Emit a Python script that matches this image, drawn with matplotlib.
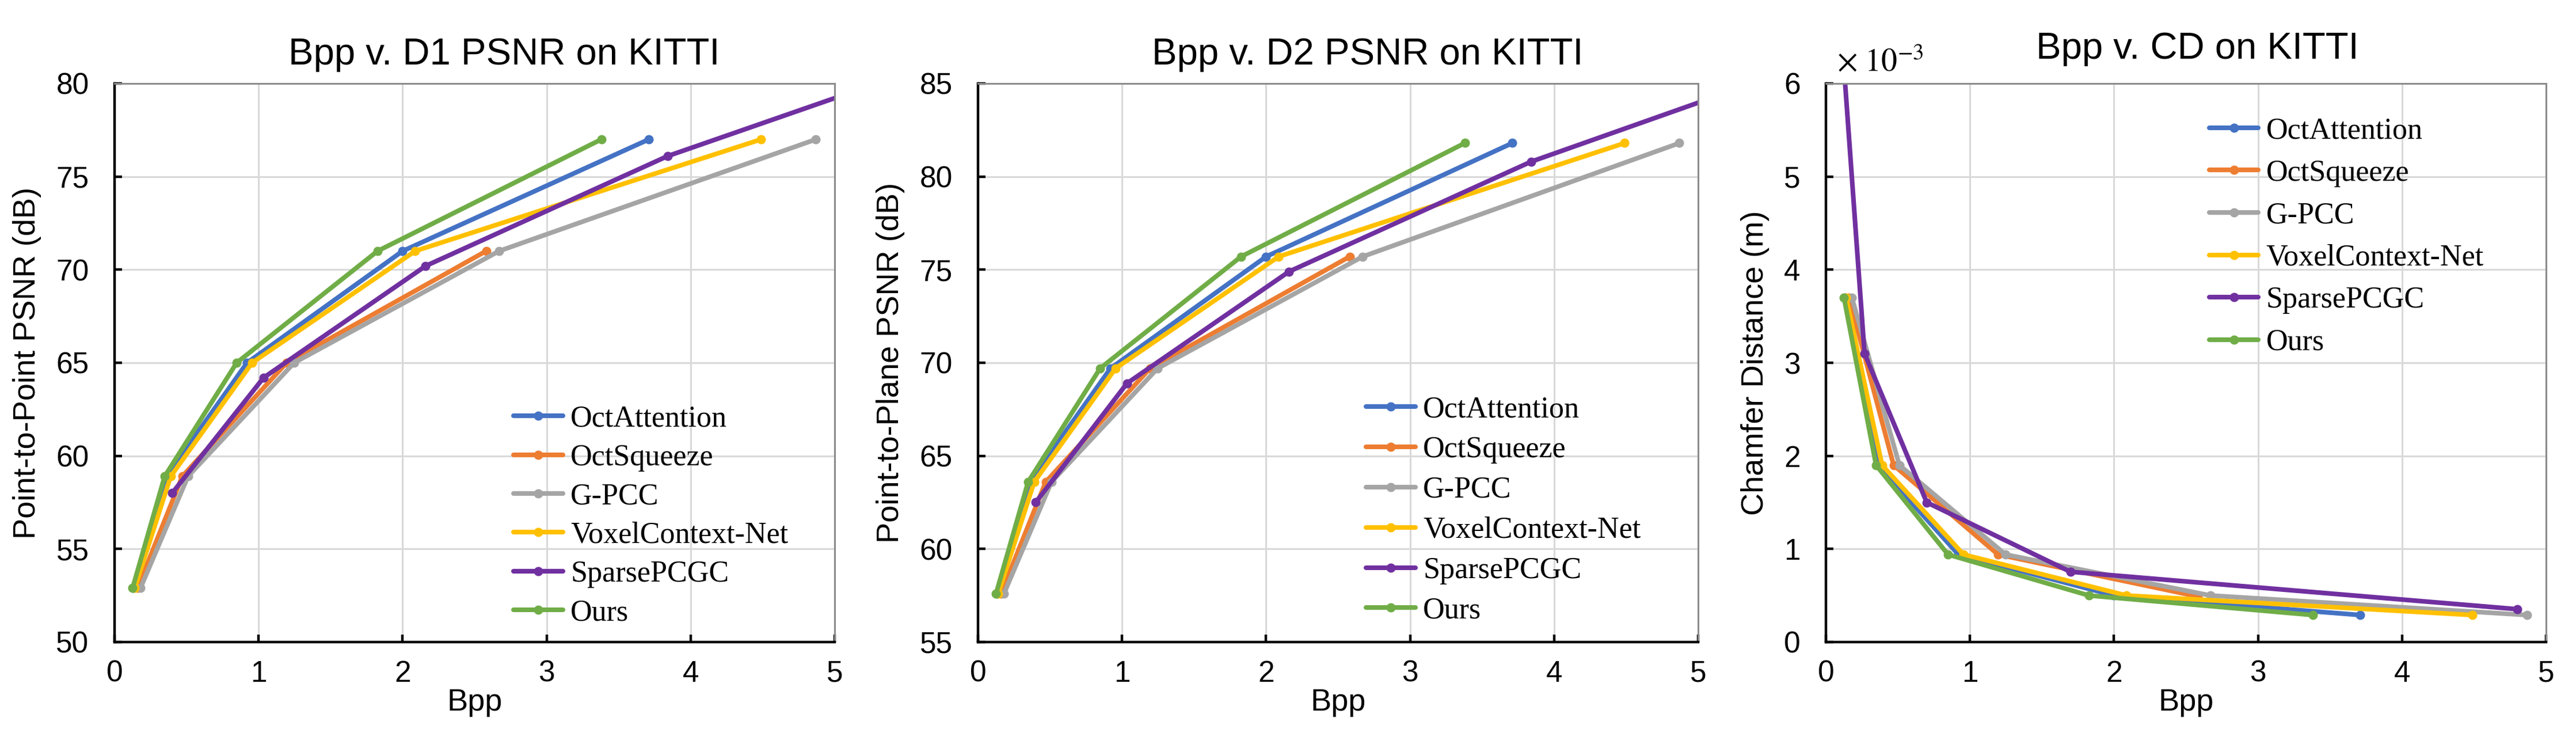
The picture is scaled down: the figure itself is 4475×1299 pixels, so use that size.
import matplotlib
matplotlib.use("Agg")
import matplotlib.pyplot as plt
from matplotlib.ticker import FuncFormatter, MultipleLocator

plt.rcParams["font.family"] = ["Liberation Sans", "DejaVu Sans"]
plt.rcParams["mathtext.fontset"] = "stix"

methods = ["OctAttention", "OctSqueeze", "G-PCC", "VoxelContext-Net", "SparsePCGC", "Ours"]
colors = ["#4472C4", "#ED7D31", "#A5A5A5", "#FFC000", "#7030A0", "#70AD47"]

# bpp per method (same operating points for D1 / D2 / CD)
bpp_octattention = [0.13, 0.36, 0.92, 2.00, 3.71]
bpp_octsqueeze = [0.16, 0.47, 1.195, 2.58]
bpp_gpcc = [0.18, 0.51, 1.247, 2.67, 4.87]
bpp_voxel = [0.14, 0.39, 0.955, 2.087, 4.49]
bpp_sparse = [0.40, 1.035, 2.16, 3.84, 6.0]
bpp_ours = [0.125, 0.348, 0.848, 1.826, 3.38]
bpp_sparse_cd = [0.11, 0.268, 0.70, 1.697, 4.80]

d1_psnr = [52.9, 58.9, 65.0, 71.0, 77.0]
d1_sparse = [58.0, 64.2, 70.2, 76.1, 81.9]
d2_psnr = [57.6, 63.6, 69.7, 75.7, 81.8]
d2_sparse = [62.5, 68.9, 74.9, 80.8, 86.7]
cd = [3.7e-3, 1.9e-3, 0.94e-3, 0.50e-3, 0.29e-3]
cd_octsqueeze = [3.7e-3, 1.9e-3, 0.94e-3, 0.49e-3]
cd_sparse = [6.5e-3, 3.1e-3, 1.5e-3, 0.755e-3, 0.353e-3]

panels = [
    dict(title="Bpp v. D1 PSNR on KITTI", ylabel="Point-to-Point PSNR (dB)",
         xs=[bpp_octattention, bpp_octsqueeze, bpp_gpcc, bpp_voxel, bpp_sparse, bpp_ours],
         ys=[d1_psnr, d1_psnr[:4], d1_psnr, d1_psnr, d1_sparse, d1_psnr],
         ylim=(50, 80), ystep=5, left=199, leg=(0.554, 0.424), lspace=0.37, tx=0.541, tpad=24),
    dict(title="Bpp v. D2 PSNR on KITTI", ylabel="Point-to-Plane PSNR (dB)",
         xs=[bpp_octattention, bpp_octsqueeze, bpp_gpcc, bpp_voxel, bpp_sparse, bpp_ours],
         ys=[d2_psnr, d2_psnr[:4], d2_psnr, d2_psnr, d2_sparse, d2_psnr],
         ylim=(55, 85), ystep=5, left=1699, leg=(0.539, 0.441), lspace=0.42, tx=0.541, tpad=24),
    dict(title="Bpp v. CD on KITTI", ylabel="Chamfer Distance (m)",
         xs=[bpp_octattention, bpp_octsqueeze, bpp_gpcc, bpp_voxel, bpp_sparse_cd, bpp_ours],
         ys=[cd, cd_octsqueeze, cd, cd, cd_sparse, cd],
         ylim=(0, 6e-3), ystep=1e-3, left=3172, leg=(0.532, 0.940), lspace=0.49, tx=0.516, tpad=31),
]

W, H = 4475, 1299
fig = plt.figure(figsize=(W / 100, H / 100), dpi=100)

for p in panels:
    ax = fig.add_axes([p["left"] / W, (H - 1115) / H, 1251 / W, 970 / H])
    for name, c, x, y in zip(methods, colors, p["xs"], p["ys"]):
        ax.plot(x, y, color=c, lw=5.8, marker="o", ms=10.5, label=name,
                solid_capstyle="round", solid_joinstyle="round")
    ax.set_xlim(0, 5)
    ax.set_ylim(*p["ylim"])
    ax.xaxis.set_major_locator(MultipleLocator(1))
    ax.yaxis.set_major_locator(MultipleLocator(p["ystep"]))
    if p["ylim"][1] < 1:
        ax.yaxis.set_major_formatter(FuncFormatter(lambda v, pos: f"{v * 1e3:.0f}"))
        ax.text(0.015, 1.022, r"$\times\ 10^{-3}$", transform=ax.transAxes,
                fontsize=40, ha="left", va="baseline")
    ax.grid(True, color="#D9D9D9", lw=2.2)
    ax.set_axisbelow(True)
    for s in ["left", "bottom"]:
        ax.spines[s].set_color("black")
        ax.spines[s].set_linewidth(3.2)
    for s in ["top", "right"]:
        ax.spines[s].set_color("#8C8C8C")
        ax.spines[s].set_linewidth(2.2)
    ax.tick_params(direction="in", length=9.4, width=3.2, labelsize=37, color="black")
    ax.tick_params(axis="x", pad=22)
    ax.tick_params(axis="y", pad=32)
    ax.set_title(p["title"], fontsize=47, x=p["tx"], pad=p["tpad"])
    ax.set_xlabel("Bpp", fontsize=39, labelpad=0)
    ax.set_ylabel(p["ylabel"], fontsize=39, labelpad=18)
    ax.legend(loc="upper left", bbox_to_anchor=p["leg"], frameon=False, borderpad=0,
              borderaxespad=0, handlelength=1.65, handletextpad=0.25,
              labelspacing=p["lspace"], numpoints=1,
              prop={"family": "Liberation Serif", "size": 37.5})

fig.savefig("out.png", dpi=100)
